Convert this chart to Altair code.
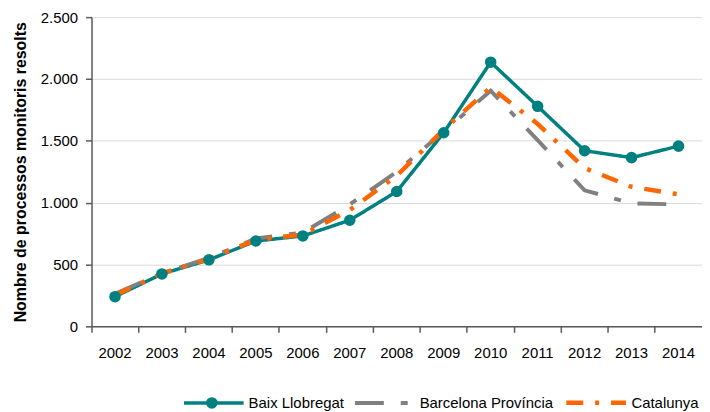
import altair as alt
import pandas as pd

years = [str(y) for y in range(2002, 2015)]
series_names = ["Baix Llobregat", "Barcelona Província", "Catalunya"]
baix = [240, 424, 538, 690, 731, 858, 1090, 1565, 2136, 1779, 1420, 1364, 1457]
bcn = [262, 430, 552, 710, 758, 985, 1250, 1575, 1905, 1505, 1100, 994, 986]
cat = [252, 428, 545, 700, 742, 940, 1218, 1590, 1932, 1637, 1280, 1128, 1067]
y_ticks = [0, 500, 1000, 1500, 2000, 2500]

colors = ["#008080", "#808080", "#FF6600"]
dashes = [[1, 0], [29, 17, 7, 17], [17, 12, 4, 12]]
widths = [3.5, 4.5, 2.5]

rows = []
for name, vals in zip(series_names, [baix, bcn, cat]):
    for yr, v in zip(years, vals):
        rows.append({"year": yr, "value": v, "series": name})
df = pd.DataFrame(rows)

font = "Liberation Sans"
leg_x = 91
leg_y = 355

x_enc = alt.X(
    "year:N",
    scale=alt.Scale(type="band", paddingInner=0, paddingOuter=0),
    axis=alt.Axis(
        title=None, labelAngle=0, bandPosition=0, grid=False,
        tickSize=6, labelPadding=13, domainColor="#595959", tickColor="#595959",
        domainWidth=1.5, tickWidth=1.5,
    ),
)
y_enc = alt.Y(
    "value:Q",
    scale=alt.Scale(domain=[0, 2500], nice=False),
    axis=alt.Axis(
        title="Nombre de processos monitoris resolts",
        values=y_ticks,
        labelExpr="replace(format(datum.value, ','), ',', '.')",
        grid=True, gridColor="#d9d9d9", gridWidth=1,
        tickSize=6, labelPadding=8, titlePadding=12,
        domainColor="#595959", tickColor="#595959", domainWidth=1.5, tickWidth=1.5,
    ),
)

lines = alt.Chart(df).mark_line().encode(
    x=x_enc,
    y=y_enc,
    color=alt.Color(
        "series:N",
        scale=alt.Scale(domain=series_names, range=colors),
        sort=series_names,
        legend=alt.Legend(
            title=None, orient="none", direction="horizontal",
            legendX=leg_x, legendY=leg_y,
            symbolType="stroke", symbolSize=3600,
            labelFont=font, labelFontSize=15, labelColor="#000000",
            labelOffset=3, columnPadding=3,
        ),
    ),
    strokeDash=alt.StrokeDash(
        "series:N", scale=alt.Scale(domain=series_names, range=dashes), sort=series_names
    ),
    strokeWidth=alt.StrokeWidth(
        "series:N", scale=alt.Scale(domain=series_names, range=widths), sort=series_names
    ),
)

points = alt.Chart(df).transform_filter(
    alt.datum.series == "Baix Llobregat"
).mark_point(size=135, opacity=1, filled=True, color="#008080").encode(
    x=x_enc,
    y=y_enc,
    shape=alt.Shape(
        "series:N",
        scale=alt.Scale(domain=["Baix Llobregat"], range=["circle"]),
        legend=alt.Legend(
            title=None, orient="none", direction="horizontal",
            legendX=leg_x, legendY=leg_y + 27,
            symbolSize=135, symbolOffset=24,
            symbolFillColor="#008080", symbolStrokeWidth=0, symbolOpacity=1,
            labelExpr="''", labelOpacity=0, labelFontSize=1,
        ),
    ),
)

chart = alt.layer(lines, points).properties(
    width=614,
    height=311,
    autosize=alt.AutoSizeParams(type="none"),
    padding={"left": 84, "top": 8, "right": 0, "bottom": 92},
).configure_view(stroke=None).configure_axis(
    labelFont=font, labelFontSize=15, labelColor="#000000",
    titleFont=font, titleFontSize=16, titleFontWeight="bold", titleColor="#000000",
)

chart.save("out.html", embed_options={"renderer": "svg", "actions": False})
